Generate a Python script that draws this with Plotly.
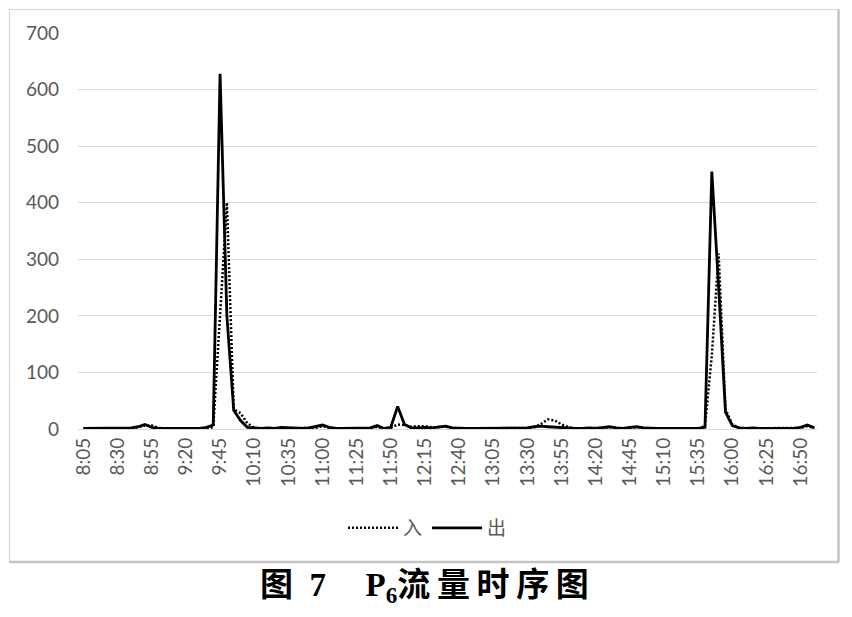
import plotly.graph_objects as go

# time categories 8:05 .. 17:00 every 5 minutes
times = []
for k in range(108):
    m = 8 * 60 + 5 + 5 * k
    times.append(f"{m // 60}:{m % 60:02d}")

tick_labels = times[::5]

series_in = [
    1, 1, 1, 1, 1, 1, 1, 1, 3, 6,
    6, 2, 1, 1, 1, 1, 1, 1, 1, 3,
    200, 400, 35, 28, 10, 2, 1, 1, 1, 2,
    1, 1, 1, 1, 2, 5, 2, 1, 1, 1,
    1, 1, 1, 4, 1, 2, 8, 7, 4, 5,
    5, 3, 3, 4, 2, 1, 1, 1, 1, 1,
    1, 1, 1, 1, 1, 2, 3, 9, 17, 15,
    8, 3, 1, 1, 1, 1, 2, 3, 2, 1,
    2, 3, 2, 1, 1, 1, 1, 1, 1, 1,
    1, 5, 130, 310, 35, 8, 2, 1, 1, 1,
    1, 1, 1, 1, 1, 2, 5, 2,
]

series_out = [
    1, 1, 1, 1, 2, 1, 1, 2, 4, 8,
    3, 1, 1, 1, 1, 1, 1, 1, 3, 7,
    628, 200, 33, 15, 3, 2, 1, 2, 1, 3,
    2, 1, 1, 2, 4, 7, 3, 1, 1, 1,
    2, 1, 2, 6, 1, 3, 40, 8, 2, 2,
    3, 2, 4, 5, 2, 1, 1, 1, 1, 2,
    1, 1, 1, 2, 1, 2, 4, 5, 4, 3,
    2, 1, 1, 1, 2, 1, 3, 4, 2, 1,
    3, 4, 2, 1, 1, 1, 1, 1, 1, 1,
    1, 3, 455, 250, 30, 6, 2, 1, 2, 1,
    1, 2, 1, 2, 1, 3, 7, 2,
]

names = ["入", "出"]
caption = "图\u20027\u2003\u2009P<sub>6</sub>流\u2009量\u2009时\u2009序\u2009图"

gray = "#595959"
fig = go.Figure()
fig.add_trace(go.Scatter(x=times, y=series_in, mode="lines", name=names[0],
                         line=dict(color="black", width=2.5, dash="2px,2px")))
fig.add_trace(go.Scatter(x=times, y=series_out, mode="lines", name=names[1],
                         line=dict(color="black", width=2.8)))

# the page body has an 8px margin, so the figure is sized to fit the window
fig.update_layout(
    width=844, height=609,
    margin=dict(l=70, r=35, t=25, b=188),
    paper_bgcolor="white", plot_bgcolor="white",
    font=dict(family="Lato, 'Noto Sans CJK SC', sans-serif", color=gray),
    showlegend=True,
    legend=dict(orientation="h", x=0.473, xanchor="center", y=-0.25, yanchor="middle",
                font=dict(size=19, family="'Noto Sans CJK SC', sans-serif", color=gray),
                itemwidth=50, traceorder="normal"),
    xaxis=dict(type="category", categoryorder="array", categoryarray=times,
               range=[-0.8, 107.4], tickmode="array", tickvals=tick_labels,
               ticktext=tick_labels, tickangle=-90, showgrid=False,
               showline=False, zeroline=False, ticks="",
               tickfont=dict(size=19, color=gray), ticklabelstandoff=4),
    yaxis=dict(range=[0, 700], dtick=100, showgrid=True, gridcolor="#d9d9d9",
               gridwidth=1, zeroline=True, zerolinecolor="#d9d9d9", zerolinewidth=1,
               showline=False, ticks="", tickfont=dict(size=19, color=gray),
               ticklabelstandoff=18),
)

# chart frame
x0, x1 = (9.5 - 78) / 739, (838.5 - 78) / 739
y0, y1 = (429 - 562) / 396, (429 - 9.5) / 396
fig.add_shape(type="rect", xref="paper", yref="paper", x0=x0, x1=x1, y0=y0, y1=y1,
              line=dict(color="#d4d4d4", width=1.2), layer="below")
fig.add_shape(type="line", xref="paper", yref="paper", x0=x1, x1=x1, y0=y0, y1=y1,
              line=dict(color="#c4c4c4", width=2.5))
fig.add_shape(type="line", xref="paper", yref="paper", x0=x0, x1=x1, y0=y0, y1=y0,
              line=dict(color="#c4c4c4", width=2.5))

fig.add_annotation(xref="paper", yref="paper", x=(424 - 78) / 739, y=(429 - 587) / 396,
                   xanchor="center", yanchor="middle", showarrow=False,
                   text="<b>" + caption + "</b>",
                   font=dict(size=33, color="black",
                             family="'Liberation Serif', 'Noto Sans CJK SC', serif"))

fig.write_html("out.html")
